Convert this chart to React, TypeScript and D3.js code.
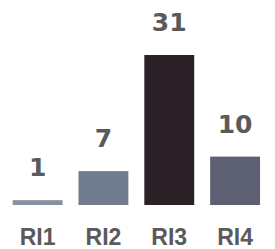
import React from "react";
import * as d3 from "d3";

const categories = ["RI1", "RI2", "RI3", "RI4"];
const values = [1, 7, 31, 10];
const colors = ["#8591a0", "#717c8e", "#2b2026", "#5e6174"];

export default function App() {
  const W = 275;
  const H = 249;
  const x = d3
    .scaleBand<string>()
    .domain(categories)
    .range([4.7, 268])
    .paddingInner(0.242)
    .paddingOuter(0.121);
  const y = d3.scaleLinear().domain([0, 31]).range([205, 55]);

  return (
    <svg
      width={W}
      height={H}
      style={{ position: "fixed", left: 0, top: 0, background: "#fff" }}
    >
      {categories.map((c, i) => {
        const bx = x(c)!;
        const bw = x.bandwidth();
        const top = y(values[i]);
        return (
          <g key={c}>
            <rect
              x={bx}
              y={top}
              width={bw}
              height={y(0) - top}
              fill={colors[i]}
            />
            <text
              x={bx + bw / 2}
              y={top - 24}
              textAnchor="middle"
              fontFamily="DejaVu Sans"
              fontWeight="bold"
              fontSize={25}
              fill="#5a5a5a"
            >
              {values[i]}
            </text>
            <text
              x={bx + bw / 2}
              y={245}
              textAnchor="middle"
              fontFamily="Liberation Sans"
              fontWeight="bold"
              fontSize={23}
              fill="#5a5a5a"
            >
              {c}
            </text>
          </g>
        );
      })}
    </svg>
  );
}
